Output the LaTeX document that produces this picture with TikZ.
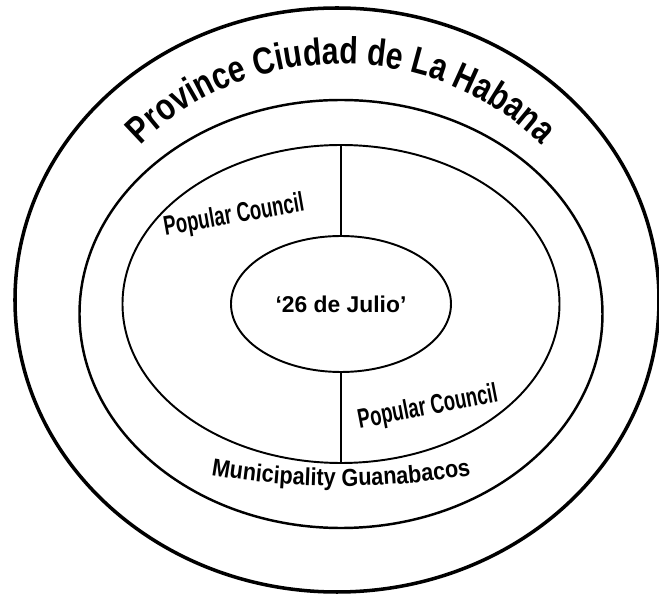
\documentclass[tikz,border=0pt]{standalone}
\usepackage{fontspec}
\setmainfont{Liberation Sans}
\newfontfamily\provfont[FakeStretch=0.8]{Liberation Sans}
\newfontfamily\munifont[FakeStretch=0.88]{Liberation Sans}
\newfontfamily\narrowfont[FakeStretch=0.68]{Liberation Sans}
\usetikzlibrary{shapes.geometric,decorations.text}

\newcommand{\provstyle}{\provfont\bfseries\fontsize{21.5pt}{21.5pt}\selectfont}
\newcommand{\munistyle}{\munifont\bfseries\fontsize{14pt}{14pt}\selectfont}

\begin{document}
\begin{tikzpicture}[ring/.style={ellipse,draw,inner sep=0pt},
                    council/.style={font=\narrowfont\bfseries\fontsize{15.5pt}{15.5pt}\selectfont}]
        \useasboundingbox (-6.82,6.0) rectangle (6.36,-5.92);
        \node [ring,line width=2pt,minimum width=12.88cm,minimum height=11.68cm] (province) at (-0.08,0) {};
        \node [ring,line width=1.4pt,minimum width=10.46cm,minimum height=8.56cm] (municipality) at (0,-0.28) {};
        \node [ring,line width=1.1pt,minimum width=8.74cm,minimum height=6.36cm] (council) at (0,-0.08) {};
        \node [ring,line width=1.1pt,minimum width=4.4cm,minimum height=2.72cm,font=\bfseries\fontsize{13pt}{13pt}\selectfont] (julio) at (0,-0.08) {‘26 de Julio’};
        \draw[line width=1.1pt] (council.north) -- (julio.north);
        \draw[line width=1.1pt] (julio.south) -- (council.south);
        \node [council,rotate=10] (councilA) at (-2.14,1.68) {Popular Council};
        \node [council,rotate=11] (councilB) at (1.74,-2.16) {Popular Council};
        % curved labels
        \path[decorate,decoration={text along path,text align=center,
              text={|\provstyle|Province Ciudad de La Habana}}]
              (170:5.3 and 4.72) arc[start angle=170,end angle=10,x radius=5.3,y radius=4.72];
        \path[decorate,decoration={text along path,text align=center,
              text={|\munistyle|Municipality Guanabacos}}]
              ([yshift=-0.1cm]245:7.6 and 3.62) arc[start angle=245,end angle=295,x radius=7.6,y radius=3.62];
      \end{tikzpicture}
\end{document}
